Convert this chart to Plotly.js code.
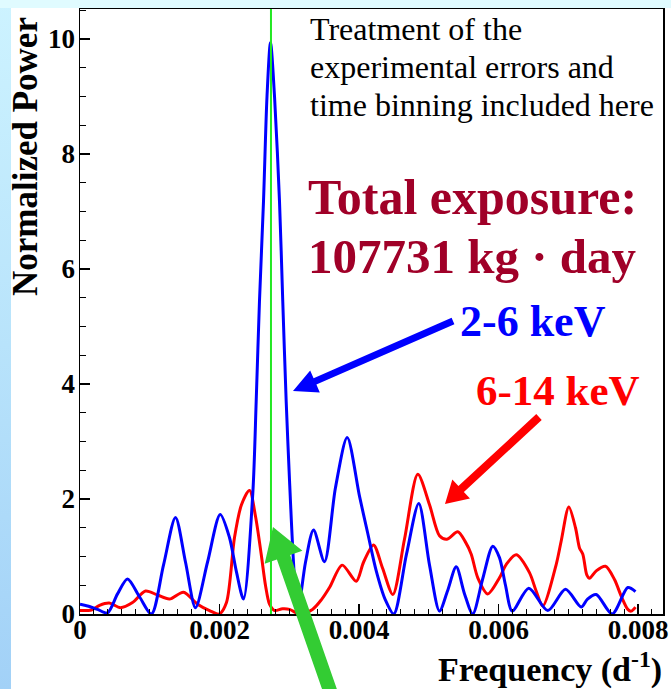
<!DOCTYPE html>
<html>
<head>
<meta charset="utf-8">
<script src="https://cdn.plot.ly/plotly-3.0.1.min.js"></script>
<style>
  html, body { margin: 0; padding: 0; background: #ffffff; }
  #wrap { position: relative; width: 671px; height: 689px; overflow: hidden; }
  #bgLeft { position: absolute; left: 0; top: 0; width: 11px; height: 689px;
            background: linear-gradient(to bottom, #cdf3ff 0%, #b8e3fb 50%, #a2d1f7 100%); }
  #bgTop { position: absolute; left: 0; top: 0; width: 671px; height: 8px; background: #e0fbff; }
  #chart { position: absolute; left: 0; top: 0; width: 671px; height: 689px; }
</style>
</head>
<body>
<div id="wrap">
  <div id="bgLeft"></div>
  <div id="bgTop"></div>
  <div id="chart"></div>
</div>
<script>
// ---- data ----
const freqBlue = [0, 0.000108, 0.000251, 0.000394, 0.000538, 0.000681, 0.000853, 0.001025, 0.001197, 0.001369,
  0.001513, 0.001656, 0.001828, 0.002010, 0.002143, 0.002240, 0.002344, 0.002477, 0.002526, 0.002573,
  0.002631, 0.002681, 0.002731, 0.002789, 0.002860, 0.002907, 0.002956, 0.003004, 0.003061, 0.003118,
  0.003233, 0.003348, 0.003505, 0.003663, 0.003831, 0.004007, 0.004126, 0.004247, 0.004376, 0.004499,
  0.004681, 0.004857, 0.005011, 0.005154, 0.005269, 0.005394, 0.005513, 0.005631, 0.005771, 0.005918,
  0.006014, 0.006100, 0.006197, 0.006434, 0.006707, 0.006961, 0.007186, 0.007276, 0.007401, 0.007630,
  0.007854, 0.007964];
const powerBlue = [0.17, 0.14, 0.08, 0.02, 0.35, 0.61, 0.30, 0.0, 0.85, 1.68,
  0.90, 0.11, 0.90, 1.73, 1.33, 0.75, 0.26, 2.09, 3.70, 5.44,
  7.18, 9.00, 9.94, 9.00, 7.18, 5.44, 3.70, 2.32, 0.90, 0.0,
  0.90, 1.46, 0.91, 2.20, 3.07, 2.05, 1.40, 0.75, 0.25, 0.0,
  1.04, 1.92, 0.85, 0.05, 0.40, 0.82, 0.35, 0.0, 0.60, 1.18,
  0.98, 0.50, 0.05, 0.45, 0.06, 0.43, 0.12, 0.26, 0.34, 0.0,
  0.46, 0.39];

const freqRed = [0, 0.000165, 0.000280, 0.000419, 0.000581, 0.000753, 0.000939, 0.001111, 0.001283, 0.001484,
  0.001685, 0.001857, 0.001996, 0.002100, 0.002215, 0.002315, 0.002430, 0.002516, 0.002598, 0.002659,
  0.002717, 0.002789, 0.002903, 0.003004, 0.003147, 0.003333, 0.003462, 0.003577, 0.003759, 0.003960,
  0.004065, 0.004208, 0.004337, 0.004485, 0.004652, 0.004843, 0.005011, 0.005154, 0.005259, 0.005416,
  0.005527, 0.005609, 0.005703, 0.005847, 0.006014, 0.006110, 0.006254, 0.006444, 0.006540, 0.006635,
  0.006827, 0.006899, 0.007008, 0.007104, 0.007161, 0.007209, 0.007266, 0.007305, 0.007401, 0.007534,
  0.007663, 0.007763, 0.007854, 0.007903, 0.007964];
const powerRed = [0.06, 0.07, 0.15, 0.19, 0.11, 0.20, 0.40, 0.33, 0.26, 0.38,
  0.17, 0.06, 0.0, 0.20, 1.33, 1.90, 2.15, 1.70, 1.04, 0.50,
  0.17, 0.06, 0.09, 0.08, 0.0, 0.08, 0.25, 0.46, 0.85, 0.57,
  0.90, 1.20, 0.80, 0.34, 1.30, 2.43, 1.90, 1.36, 1.30, 1.43,
  1.25, 1.04, 0.63, 0.35, 0.63, 0.86, 1.03, 0.72, 0.40, 0.14,
  0.86, 1.27, 1.86, 1.50, 1.15, 1.04, 0.68, 0.62, 0.75, 0.83,
  0.60, 0.30, 0.08, 0.05, 0.12];

const xTickVals = [0, 0.002, 0.004, 0.006, 0.008];
const xTickText = ['0', '0.002', '0.004', '0.006', '0.008'];
const yTickVals = [0, 2, 4, 6, 8, 10];
const yTickText = ['0', '2', '4', '6', '8', '10'];
const oneYearFreq = 1 / 365.25;

// ---- layout helpers (pixel -> paper for decorations) ----
const W = 671, H = 689;
const M = { l: 80, r: 8, t: 9, b: 75 };
const PW = W - M.l - M.r, PH = H - M.t - M.b;
const px = x => (x - M.l) / PW;
const py = y => (H - M.b - y) / PH;

function arrowPath(x1, y1, x2, y2, w, L, h) {
  const dx = x2 - x1, dy = y2 - y1, len = Math.hypot(dx, dy);
  const ux = dx / len, uy = dy / len, nx = -uy, ny = ux;
  const bx = x2 - ux * L, by = y2 - uy * L;
  const pts = [
    [x1 + nx * w / 2, y1 + ny * w / 2],
    [bx + nx * w / 2, by + ny * w / 2],
    [bx + nx * h, by + ny * h],
    [x2, y2],
    [bx - nx * h, by - ny * h],
    [bx - nx * w / 2, by - ny * w / 2],
    [x1 - nx * w / 2, y1 - ny * w / 2]
  ];
  return 'M ' + pts.map(p => px(p[0]).toFixed(5) + ',' + py(p[1]).toFixed(5)).join(' L ') + ' Z';
}

const serif = 'Liberation Serif';

const traces = [
  { x: freqRed, y: powerRed, type: 'scatter', mode: 'lines', name: '6-14 keV',
    line: { color: '#ff0000', width: 3, shape: 'spline', smoothing: 0.8 }, hoverinfo: 'skip' },
  { x: freqBlue, y: powerBlue, type: 'scatter', mode: 'lines', name: '2-6 keV',
    line: { color: '#0000ff', width: 3, shape: 'spline', smoothing: 0.8 }, hoverinfo: 'skip' }
];

const layout = {
  width: W, height: H,
  margin: M,
  paper_bgcolor: 'rgba(0,0,0,0)',
  plot_bgcolor: '#ffffff',
  showlegend: false,
  xaxis: {
    range: [0, PW / 69750],
    tickvals: xTickVals, ticktext: xTickText,
    ticks: 'inside', ticklen: 10, tickwidth: 1.5, tickcolor: '#000',
    minor: { dtick: 0.0002, ticks: 'inside', ticklen: 5, tickwidth: 1, tickcolor: '#000' },
    showline: true, linecolor: '#000', linewidth: 1.5, mirror: true,
    showgrid: false, zeroline: false, ticklabeloverflow: 'allow',
    tickfont: { family: serif, size: 27, color: '#000', weight: 'bold' }, ticklabelstandoff: -9
  },
  yaxis: {
    range: [0, PH / 57.5],
    tickvals: yTickVals, ticktext: yTickText,
    ticks: 'inside', ticklen: 10, tickwidth: 1.5, tickcolor: '#000',
    minor: { dtick: 0.5, ticks: 'inside', ticklen: 6, tickwidth: 1, tickcolor: '#000' },
    showline: true, linecolor: '#000', linewidth: 1.5, mirror: true,
    showgrid: false, zeroline: false, ticklabeloverflow: 'allow',
    tickfont: { family: serif, size: 27, color: '#000', weight: 'bold' }, ticklabelstandoff: -2
  },
  shapes: [
    { type: 'line', xref: 'x', yref: 'paper', x0: oneYearFreq, x1: oneYearFreq, y0: 0, y1: 1,
      line: { color: '#22e822', width: 2 } },
    { type: 'path', xref: 'paper', yref: 'paper', path: arrowPath(453, 321, 293, 391, 7, 24, 12),
      fillcolor: '#0000ff', line: { width: 0 } },
    { type: 'path', xref: 'paper', yref: 'paper', path: arrowPath(539, 417, 445, 504, 8, 22, 13),
      fillcolor: '#ff0000', line: { width: 0 } },
    { type: 'path', xref: 'paper', yref: 'paper', path: arrowPath(335, 705, 273, 527, 14, 32, 20),
      fillcolor: '#33cc33', line: { width: 0 } }
  ],
  annotations: [
    { xref: 'paper', yref: 'paper', x: px(25), y: py(157), text: 'Normalized Power', textangle: -90,
      showarrow: false, xanchor: 'center', yanchor: 'middle',
      font: { family: serif, size: 35, color: '#000', weight: 'bold' } },
    { xref: 'paper', yref: 'paper', x: px(664), y: py(667), text: 'Frequency (d<sup>-1</sup>)',
      showarrow: false, xanchor: 'right', yanchor: 'middle',
      font: { family: serif, size: 34, color: '#000', weight: 'bold' } },
    { xref: 'paper', yref: 'paper', x: px(308), y: py(29), text: 'Treatment of the',
      showarrow: false, xanchor: 'left', yanchor: 'middle', font: { family: serif, size: 32, color: '#000' } },
    { xref: 'paper', yref: 'paper', x: px(308), y: py(67), text: 'experimental errors and',
      showarrow: false, xanchor: 'left', yanchor: 'middle', font: { family: serif, size: 32, color: '#000' } },
    { xref: 'paper', yref: 'paper', x: px(308), y: py(105), text: 'time binning included here',
      showarrow: false, xanchor: 'left', yanchor: 'middle', font: { family: serif, size: 32, color: '#000' } },
    { xref: 'paper', yref: 'paper', x: px(306), y: py(197), text: 'Total exposure:',
      showarrow: false, xanchor: 'left', yanchor: 'middle',
      font: { family: serif, size: 50, color: '#a00028', weight: 'bold' } },
    { xref: 'paper', yref: 'paper', x: px(306), y: py(256), text: '107731 kg · day',
      showarrow: false, xanchor: 'left', yanchor: 'middle',
      font: { family: serif, size: 49, color: '#a00028', weight: 'bold' } },
    { xref: 'paper', yref: 'paper', x: px(458), y: py(321), text: '2-6 keV',
      showarrow: false, xanchor: 'left', yanchor: 'middle',
      font: { family: serif, size: 44, color: '#0000ff', weight: 'bold' } },
    { xref: 'paper', yref: 'paper', x: px(474), y: py(390), text: '6-14 keV',
      showarrow: false, xanchor: 'left', yanchor: 'middle',
      font: { family: serif, size: 43, color: '#ff0000', weight: 'bold' } }
  ]
};

Plotly.newPlot('chart', traces, layout, { staticPlot: true, displayModeBar: false });
</script>
</body>
</html>
